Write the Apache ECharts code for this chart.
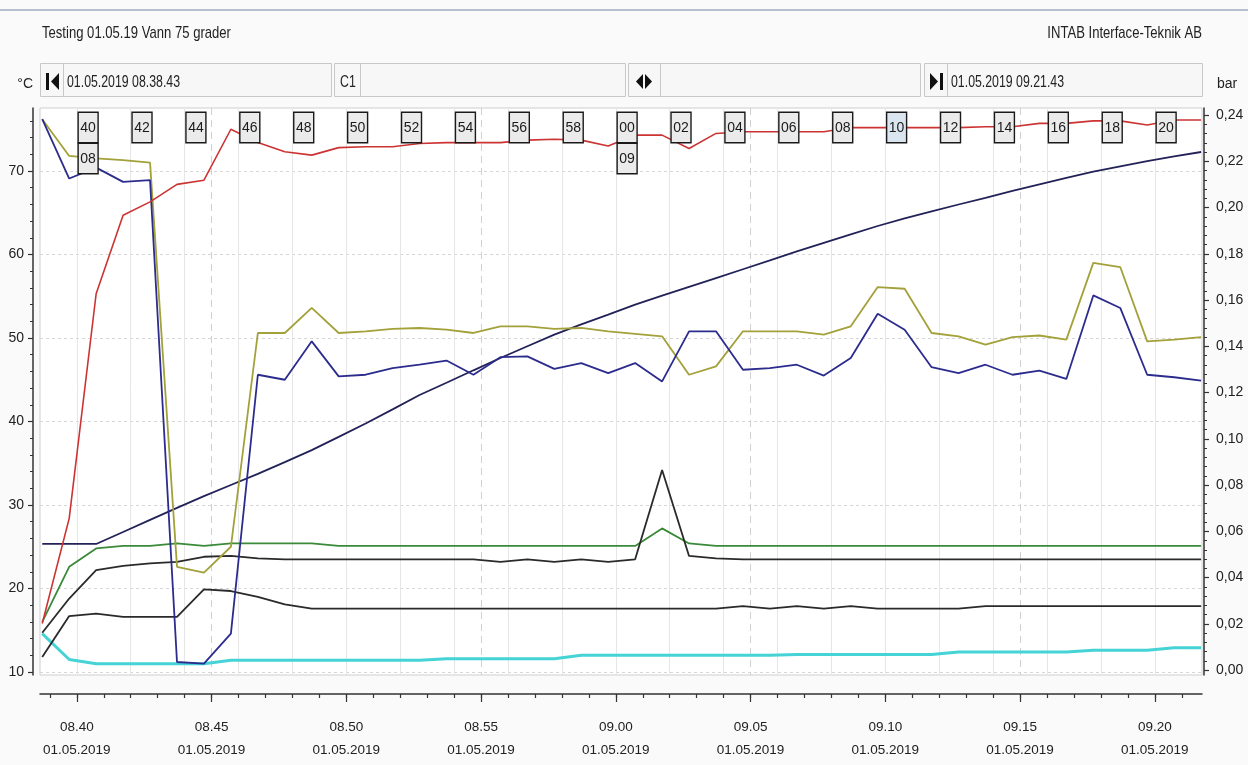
<!DOCTYPE html>
<html>
<head>
<meta charset="utf-8">
<script src="https://cdn.jsdelivr.net/npm/echarts@6/dist/echarts.min.js"></script>
<style>
html,body{margin:0;padding:0;background:#fafafa;}
#chart{width:1248px;height:765px;}
</style>
</head>
<body>
<div id="chart"></div>
<script>
// ---------------- data ----------------
const times = ['08:38:43','08:39:43','08:40:43','08:41:43','08:42:43','08:43:43','08:44:43','08:45:43','08:46:43','08:47:43',
  '08:48:43','08:49:43','08:50:43','08:51:43','08:52:43','08:53:43','08:54:43','08:55:43','08:56:43','08:57:43',
  '08:58:43','08:59:43','09:00:43','09:01:43','09:02:43','09:03:43','09:04:43','09:05:43','09:06:43','09:07:43',
  '09:08:43','09:09:43','09:10:43','09:11:43','09:12:43','09:13:43','09:14:43','09:15:43','09:16:43','09:17:43',
  '09:18:43','09:19:43','09:20:43','09:21:43'];

const redTemp = [15.8,28.4,55.3,64.7,66.3,68.4,68.9,75.0,73.4,72.3,71.9,72.8,72.9,72.9,73.3,73.4,73.4,73.4,73.7,73.8,
  73.7,73.0,74.3,74.3,72.7,74.5,74.7,74.7,74.7,74.7,75.2,75.2,75.2,75.2,75.2,75.3,75.3,75.7,75.7,76.0,76.0,75.5,76.1,76.1];
const oliveTemp = [76.2,71.8,71.5,71.3,71.0,22.6,21.9,25.0,50.6,50.6,53.6,50.6,50.8,51.1,51.2,51.0,50.6,51.4,51.4,51.1,
  51.2,50.8,50.5,50.2,45.6,46.6,50.8,50.8,50.8,50.4,51.4,56.1,55.9,50.6,50.2,49.2,50.1,50.3,49.8,59.0,58.5,49.6,49.8,50.1];
const blueTemp = [76.2,69.1,70.4,68.7,68.9,11.2,11.0,14.6,45.6,45.0,49.6,45.4,45.6,46.4,46.8,47.3,45.6,47.7,47.8,46.3,
  47.0,45.8,47.0,44.8,50.8,50.8,46.2,46.4,46.8,45.5,47.6,52.9,51.0,46.5,45.8,46.8,45.6,46.1,45.1,55.1,53.6,45.6,45.3,44.9];
const greenTemp = [16.0,22.6,24.8,25.1,25.1,25.4,25.1,25.4,25.4,25.4,25.4,25.1,25.1,25.1,25.1,25.1,25.1,25.1,25.1,25.1,
  25.1,25.1,25.1,27.2,25.4,25.1,25.1,25.1,25.1,25.1,25.1,25.1,25.1,25.1,25.1,25.1,25.1,25.1,25.1,25.1,25.1,25.1,25.1,25.1];
const blackTempA = [14.7,18.8,22.2,22.7,23.0,23.2,23.8,23.9,23.6,23.5,23.5,23.5,23.5,23.5,23.5,23.5,23.5,23.2,23.5,23.2,
  23.5,23.2,23.5,34.2,23.9,23.6,23.5,23.5,23.5,23.5,23.5,23.5,23.5,23.5,23.5,23.5,23.5,23.5,23.5,23.5,23.5,23.5,23.5,23.5];
const blackTempB = [11.8,16.7,17.0,16.6,16.6,16.6,19.9,19.7,19.0,18.1,17.6,17.6,17.6,17.6,17.6,17.6,17.6,17.6,17.6,17.6,
  17.6,17.6,17.6,17.6,17.6,17.6,17.9,17.6,17.9,17.6,17.9,17.6,17.6,17.6,17.6,17.9,17.9,17.9,17.9,17.9,17.9,17.9,17.9,17.9];
const cyanTemp = [14.6,11.5,11.0,11.0,11.0,11.0,11.0,11.4,11.4,11.4,11.4,11.4,11.4,11.4,11.4,11.6,11.6,11.6,11.6,11.6,
  12.0,12.0,12.0,12.0,12.0,12.0,12.0,12.0,12.1,12.1,12.1,12.1,12.1,12.1,12.4,12.4,12.4,12.4,12.4,12.6,12.6,12.6,12.9,12.9];
const pressureBar = [0.0545,0.0545,0.0545,0.0597,0.0649,0.0701,0.0752,0.0800,0.0848,0.0899,0.0951,0.1008,0.1066,0.1127,
  0.1189,0.1242,0.1296,0.1349,0.1400,0.1450,0.1495,0.1537,0.1580,0.1619,0.1657,0.1695,0.1733,0.1771,0.1810,0.1847,
  0.1884,0.1920,0.1953,0.1983,0.2013,0.2042,0.2072,0.2100,0.2128,0.2155,0.2178,0.2201,0.2221,0.2240];

// tick labels
const xTickLabels = ['08.40','08.45','08.50','08.55','09.00','09.05','09.10','09.15','09.20'];
const xDateLabel = '01.05.2019';
const flagTimes = ['08:40','08:42','08:44','08:46','08:48','08:50','08:52','08:54','08:56','08:58','09:00',
  '09:02','09:04','09:06','09:08','09:10','09:12','09:14','09:16','09:18','09:20'];
const selectedFlag = '09:10';
const hourFlagTimes = ['08:40','09:00'];
const yLeftTicks = [10,20,30,40,50,60,70];
const yRightTicks = [0,0.02,0.04,0.06,0.08,0.10,0.12,0.14,0.16,0.18,0.20,0.22,0.24];

const chartTitle = 'Testing 01.05.19 Vann 75 grader';
const companyText = 'INTAB Interface-Teknik AB';
const startText = '01.05.2019 08.38.43';
const endText = '01.05.2019 09.21.43';
const cursorText = 'C1';

// ---------------- helpers ----------------
function toMin(s) {
  const p = s.split(/[:.]/).map(Number);
  return p[0] * 60 + p[1] + (p[2] || 0) / 60;
}
function near(a, b) { return Math.abs(a - b) < 1e-6; }

const xMin = toMin('08:38:38');
const xMax = toMin('09:21:45');
const xTickMins = xTickLabels.map(toMin);
const flagMins = flagTimes.map(toMin);
const hourMins = hourFlagTimes.map(toMin);
const minuteTicks = [];
for (let m = Math.ceil(xMin); m <= Math.floor(xMax); m++) minuteTicks.push(m);
const yLeftMinor = [];
for (let v = 10; v <= 76; v += 2) if (v % 10 !== 0) yLeftMinor.push(v);
const yRightMinor = [];
for (let k = 1; k <= 60; k++) if (k % 5 !== 0) yRightMinor.push(k * 0.004);

const yLeftMin = 9.641, yLeftMax = 77.545;
const yRightMin = -0.00216, yRightMax = 0.24303;

const FONT = "'Liberation Sans',Arial,sans-serif";
const TXT = '#222222';
const AX = '#333333';
const SQUEEZE = 0.77;

function pairs(arr) { return times.map((t, i) => [toMin(t), arr[i]]); }

const seriesDefs = [
  {name: 'Cyan', data: cyanTemp, color: '#45d3d6', width: 3, y: 0},
  {name: 'Grønn', data: greenTemp, color: '#3a8a3a', width: 1.8, y: 0},
  {name: 'Sort A', data: blackTempA, color: '#2a2a2a', width: 1.8, y: 0},
  {name: 'Sort B', data: blackTempB, color: '#2a2a2a', width: 1.8, y: 0},
  {name: 'Trykk', data: pressureBar, color: '#222258', width: 1.8, y: 1},
  {name: 'Oliven', data: oliveTemp, color: '#a3a13a', width: 1.8, y: 0},
  {name: 'Blå', data: blueTemp, color: '#2c2c8e', width: 1.8, y: 0},
  {name: 'Rød', data: redTemp, color: '#cc3333', width: 1.6, y: 0}
];

const series = seriesDefs.map(d => ({
  name: d.name, type: 'line', xAxisIndex: 0, yAxisIndex: d.y,
  data: pairs(d.data), showSymbol: false, symbol: 'none',
  lineStyle: {color: d.color, width: d.width}, itemStyle: {color: d.color},
  silent: true, animation: false, z: 3
}));

const flagBox = {
  fontFamily: FONT, fontSize: 14, color: '#1a1a1a',
  backgroundColor: '#ebebeb', borderColor: '#1a1a1a', borderWidth: 1.4,
  padding: [8, 1.5, 7, 1.5], lineHeight: 15
};
const flagLabel = {
  show: true, margin: 0, align: 'left', verticalAlign: 'top', padding: [0, 0, 0, 2],
  fontFamily: FONT, fontSize: 14, lineHeight: 30,
  rich: {b: flagBox, s: Object.assign({}, flagBox, {backgroundColor: '#dbe5f0'})}
};

// toolbar graphics
const boxes = [
  {x: 40, w: 291, sep: 63},
  {x: 334, w: 291, sep: 360},
  {x: 628, w: 292, sep: 660},
  {x: 924, w: 278, sep: 947}
];
const graphics = [
  {type: 'line', shape: {x1: 0, y1: 10, x2: 1248, y2: 10}, style: {stroke: '#b5c0cf', lineWidth: 2}, silent: true}
];
boxes.forEach(b => {
  graphics.push({type: 'rect', shape: {x: b.x + 0.5, y: 63.5, width: b.w, height: 33},
    style: {fill: '#f7f7f7', stroke: '#c8c8c8', lineWidth: 1}, silent: true});
  graphics.push({type: 'line', shape: {x1: b.sep + 0.5, y1: 64, x2: b.sep + 0.5, y2: 96},
    style: {stroke: '#c8c8c8', lineWidth: 1}, silent: true});
});
// icons
graphics.push({type: 'rect', shape: {x: 46, y: 73, width: 3, height: 17}, style: {fill: '#111'}, silent: true});
graphics.push({type: 'polygon', shape: {points: [[51, 81.5], [59, 73], [59, 90]]}, style: {fill: '#111'}, silent: true});
graphics.push({type: 'polygon', shape: {points: [[636, 81.5], [643, 74], [643, 89]]}, style: {fill: '#111'}, silent: true});
graphics.push({type: 'polygon', shape: {points: [[652, 81.5], [645, 74], [645, 89]]}, style: {fill: '#111'}, silent: true});
graphics.push({type: 'polygon', shape: {points: [[930, 73], [930, 90], [938, 81.5]]}, style: {fill: '#111'}, silent: true});
graphics.push({type: 'rect', shape: {x: 940, y: 73, width: 3, height: 17}, style: {fill: '#111'}, silent: true});
// condensed texts (the original UI font is narrow)
function squeezedText(x, y, text, size, align) {
  return {type: 'text', x: x, y: y, scaleX: SQUEEZE, scaleY: 1, silent: true,
    style: {text: text, fontFamily: FONT, fontSize: size, fill: TXT, align: align, verticalAlign: 'middle'}};
}
graphics.push(squeezedText(42, 33, chartTitle, 17, 'left'));
graphics.push(squeezedText(1202, 33, companyText, 17, 'right'));
graphics.push(squeezedText(67, 83, startText, 16, 'left'));
graphics.push(squeezedText(340, 83, cursorText, 16, 'left'));
graphics.push(squeezedText(951, 83, endText, 16, 'left'));

const option = {
  backgroundColor: '#fafafa',
  animation: false,
  textStyle: {fontFamily: FONT},
  grid: {left: 40, right: 46, top: 108, bottom: 90, show: true, backgroundColor: '#ffffff',
    borderColor: '#cfcfcf', borderWidth: 1, containLabel: false, outerBoundsMode: 'none'},
  xAxis: [
    { // data axis: line + minute ticks
      type: 'value', min: xMin, max: xMax, position: 'bottom', offset: 19,
      axisLine: {show: true, onZero: false, lineStyle: {color: AX, width: 1.5}},
      axisTick: {show: true, customValues: minuteTicks, length: 4, lineStyle: {color: AX, width: 1.2}},
      axisLabel: {show: false}, splitLine: {show: false}
    },
    { // 5-minute labels, long ticks, dashed vertical grid
      type: 'value', min: xMin, max: xMax, position: 'bottom', offset: 19,
      axisLine: {show: false, onZero: false},
      axisTick: {show: true, customValues: xTickMins, length: 8, lineStyle: {color: AX, width: 1.2}},
      axisLabel: {show: true, customValues: xTickMins, margin: 22, fontFamily: FONT, fontSize: 13.5,
        lineHeight: 23, color: TXT,
        formatter: v => {
          const i = xTickMins.findIndex(m => near(m, v));
          return i < 0 ? '' : xTickLabels[i] + '\n' + xDateLabel;
        }},
      splitLine: {show: true, lineStyle: {color: '#d0d0d0', width: 1, type: [7, 5]}}
    },
    { // 2-minute light vertical grid
      type: 'value', min: xMin, max: xMax, position: 'bottom', offset: 19,
      axisLine: {show: false, onZero: false},
      axisTick: {show: false, customValues: flagMins},
      axisLabel: {show: false},
      splitLine: {show: true, lineStyle: {color: '#e6e6e6', width: 1, type: 'solid'}}
    },
    { // minute flags on top
      type: 'value', min: xMin, max: xMax, position: 'top', offset: -12, z: 10,
      axisLine: {show: false, onZero: false}, axisTick: {show: false},
      axisLabel: Object.assign({customValues: flagMins, formatter: v => {
        const i = flagMins.findIndex(m => near(m, v));
        if (i < 0) return '';
        const tag = flagTimes[i] === selectedFlag ? 's' : 'b';
        return '{' + tag + '|' + flagTimes[i].split(':')[1] + '}';
      }}, flagLabel),
      splitLine: {show: false}
    },
    { // hour flags under the minute flags
      type: 'value', min: xMin, max: xMax, position: 'top', offset: -43, z: 10,
      axisLine: {show: false, onZero: false}, axisTick: {show: false},
      axisLabel: Object.assign({customValues: hourMins, formatter: v => {
        const i = hourMins.findIndex(m => near(m, v));
        return i < 0 ? '' : '{b|' + hourFlagTimes[i].split(':')[0] + '}';
      }}, flagLabel),
      splitLine: {show: false}
    }
  ],
  yAxis: [
    { // left, °C
      type: 'value', min: yLeftMin, max: yLeftMax, position: 'left', offset: 7,
      name: '°C', nameLocation: 'end', nameGap: 24,
      nameTextStyle: {fontFamily: FONT, fontSize: 14, color: TXT, align: 'right', verticalAlign: 'middle'},
      axisLine: {show: true, onZero: false, lineStyle: {color: AX, width: 1.5}},
      axisTick: {show: true, customValues: yLeftTicks, length: 5, lineStyle: {color: AX, width: 1.2}},
      axisLabel: {show: true, customValues: yLeftTicks, margin: 9, fontFamily: FONT, fontSize: 14, color: TXT},
      splitLine: {show: true, lineStyle: {color: '#d6d6d6', width: 1, type: [3, 3]}}
    },
    { // right, bar
      type: 'value', min: yRightMin, max: yRightMax, position: 'right', offset: 2,
      name: 'bar', nameLocation: 'end', nameGap: 24,
      nameTextStyle: {fontFamily: FONT, fontSize: 14, color: TXT, align: 'left', verticalAlign: 'middle',
        padding: [0, 0, 0, 13]},
      axisLine: {show: true, onZero: false, lineStyle: {color: AX, width: 1.5}},
      axisTick: {show: true, customValues: yRightTicks, length: 5, lineStyle: {color: AX, width: 1.2}},
      axisLabel: {show: true, customValues: yRightTicks, margin: 12, fontFamily: FONT, fontSize: 14, color: TXT,
        formatter: v => v.toFixed(2).replace('.', ',')},
      splitLine: {show: false}
    },
    { // left minor ticks
      type: 'value', min: yLeftMin, max: yLeftMax, position: 'left', offset: 7,
      axisLine: {show: false, onZero: false},
      axisTick: {show: true, customValues: yLeftMinor, length: 3, lineStyle: {color: AX, width: 1}},
      axisLabel: {show: false}, splitLine: {show: false}
    },
    { // right minor ticks
      type: 'value', min: yRightMin, max: yRightMax, position: 'right', offset: 2,
      axisLine: {show: false, onZero: false},
      axisTick: {show: true, customValues: yRightMinor, length: 3, lineStyle: {color: AX, width: 1}},
      axisLabel: {show: false}, splitLine: {show: false}
    }
  ],
  graphic: graphics,
  series: series
};

const chart = echarts.init(document.getElementById('chart'), null, {renderer: 'canvas'});
chart.setOption(option);
</script>
</body>
</html>
